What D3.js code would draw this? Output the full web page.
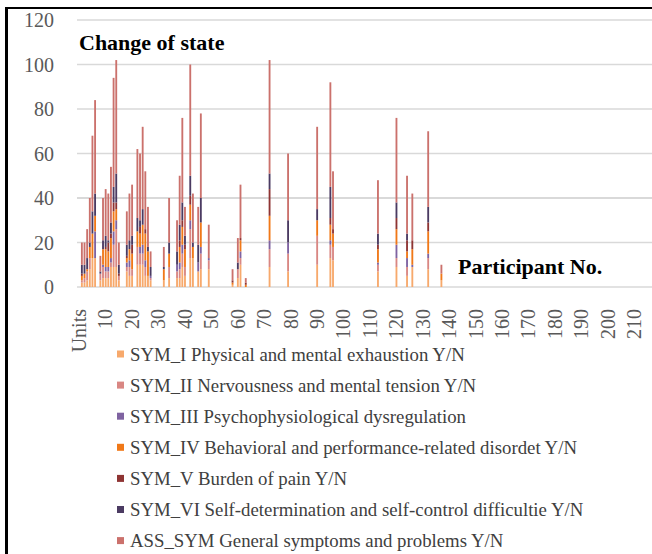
<script src="https://d3js.org/d3.v7.min.js"></script>
<style>
  body { margin: 0; background: #fff; }
  text { font-family: "Liberation Serif", "Times New Roman", serif; }
</style>
<body>
<script>
  // participant numbers that have a bar (category index on the x axis)
  var participants = [1, 2, 3, 4, 5, 6, 8, 9, 10, 11, 12, 13, 14, 15, 18, 19, 20, 22, 23, 24, 25, 26, 27,
    32, 34, 37, 38, 39, 40, 42, 43, 45, 46, 49, 58, 60, 61, 63, 72, 79, 90, 95, 96, 113, 120, 124, 126, 132, 137];

  // one array per series, same order as participants
  var symI   = [2, 2, 3, 8, 13, 13, 3, 4, 4, 4, 9, 9, 9, 3, 7, 5, 5, 10, 10, 10, 5, 5, 3,
    3, 4, 4, 4, 9, 5, 13, 13, 7, 8, 8, 1, 4, 10, 0, 9, 7, 10, 13, 12, 7, 9, 5, 9, 8, 3];
  var symII  = [1, 2, 4, 5, 0, 0, 3, 5, 3, 3, 2, 10, 17, 2, 2, 4, 3, 8, 5, 5, 4, 0, 1,
    0, 5, 3, 4, 6, 4, 13, 0, 0, 7, 4, 0, 4, 3, 0, 8, 8, 13, 6, 6, 3, 4, 4, 0, 5, 0];
  var symIII = [0, 0, 0, 0, 0, 12, 0, 1, 2, 2, 2, 6, 4, 0, 2, 3, 0, 0, 3, 4, 3, 0, 1,
    0, 0, 3, 3, 4, 0, 4, 0, 4, 3, 1, 0, 0, 3, 0, 4, 5, 0, 2, 0, 1, 6, 4, 1, 2, 0];
  var symIV  = [2, 2, 1, 5, 11, 7, 0, 7, 8, 7, 9, 9, 5, 0, 2, 5, 7, 7, 6, 9, 12, 11, 0,
    5, 6, 0, 7, 8, 8, 7, 5, 0, 11, 0, 1, 0, 5, 1, 11, 0, 7, 7, 6, 6, 7, 3, 7, 10, 3];
  var symV   = [1, 0, 0, 0, 0, 0, 0, 0, 1, 4, 2, 4, 3, 1, 1, 0, 4, 0, 3, 0, 2, 0, 0,
    0, 0, 0, 3, 3, 2, 4, 0, 0, 0, 0, 1, 0, 1, 1, 12, 0, 0, 3, 2, 2, 5, 5, 4, 4, 0];
  var symVI  = [4, 4, 5, 2, 10, 10, 1, 4, 5, 1, 5, 7, 13, 4, 5, 4, 4, 6, 3, 7, 0, 2, 4,
    1, 5, 6, 7, 8, 4, 9, 2, 8, 11, 0, 0, 3, 0, 0, 7, 10, 5, 14, 0, 5, 7, 3, 0, 7, 0];
  var assSym = [10, 10, 13, 20, 34, 42, 7, 19, 21, 21, 25, 49, 51, 10, 15, 21, 23, 31, 30, 37, 26, 18, 7,
    9, 20, 14, 22, 38, 13, 50, 22, 17, 38, 15, 5, 11, 24, 2, 51, 30, 37, 47, 26, 24, 38, 26, 21, 34, 4];

  var seriesNames = [
    "SYM_I Physical and mental exhaustion Y/N",
    "SYM_II Nervousness and mental tension Y/N",
    "SYM_III Psychophysiological dysregulation",
    "SYM_IV Behavioral and performance-related disordet Y/N",
    "SYM_V Burden of pain Y/N",
    "SYM_VI Self-determination and self-control difficultie Y/N",
    "ASS_SYM General symptoms and problems Y/N"
  ];
  var seriesValues = [symI, symII, symIII, symIV, symV, symVI, assSym];
  var colors = ["#F7A96C", "#D98783", "#7F63A1", "#F07818", "#8E3433", "#4B3B62", "#CB716C"];

  var yTicks = [0, 20, 40, 60, 80, 100, 120];
  var xTickLabels = ["Units", "10", "20", "30", "40", "50", "60", "70", "80", "90", "100",
    "110", "120", "130", "140", "150", "160", "170", "180", "190", "200", "210"];

  // category axis: "Units" then participant numbers
  var nCats = 218;
  var categories = ["Units"].concat(d3.range(1, nCats).map(String));

  var width = 652;
  var height = 554;

  var svg = d3.select("body")
    .append("svg")
    .attr("width", width)
    .attr("height", height);

  var x = d3.scaleBand()
    .domain(categories)
    .range([78.3, 78.3 + nCats * 2.64])
    .paddingInner(0.3)
    .paddingOuter(0);

  var y = d3.scaleLinear()
    .domain([0, 120])
    .range([287, 20]);

  // frame (left and top edges only)
  svg.append("rect").attr("x", 5).attr("y", 7).attr("width", 647).attr("height", 2).attr("fill", "#000");
  svg.append("rect").attr("x", 5).attr("y", 7).attr("width", 3).attr("height", 547).attr("fill", "#000");

  // gridlines
  svg.append("g")
    .selectAll("line")
    .data(yTicks)
    .join("line")
    .attr("x1", 77)
    .attr("x2", 652)
    .attr("y1", d => y(d))
    .attr("y2", d => y(d))
    .attr("stroke", "#D9D9D9")
    .attr("stroke-width", d => d == 40 ? 2.2 : 1.3);

  // y tick labels
  svg.append("g")
    .selectAll("text")
    .data(yTicks)
    .join("text")
    .attr("x", 54)
    .attr("y", d => y(d))
    .attr("dy", "0.35em")
    .attr("text-anchor", "end")
    .attr("font-size", 20)
    .attr("fill", "#595959")
    .text(d => d);

  // x tick labels, rotated
  svg.append("g")
    .selectAll("text")
    .data(xTickLabels)
    .join("text")
    .attr("transform", (d, i) => "translate(" + (x(categories[i * 10]) + x.bandwidth() / 2) + ",309) rotate(-90)")
    .attr("dy", "0.34em")
    .attr("text-anchor", "end")
    .attr("font-size", 20)
    .attr("fill", "#595959")
    .text(d => d);

  // stacked bars
  var rows = participants.map(function(p, i) {
    var r = { cat: String(p) };
    seriesValues.forEach(function(s, k) { r["s" + k] = s[i]; });
    return r;
  });
  var stack = d3.stack().keys(d3.range(7).map(k => "s" + k));
  var layers = stack(rows);

  svg.append("g")
    .selectAll("g")
    .data(layers)
    .join("g")
    .attr("fill", (d, k) => colors[k])
    .selectAll("rect")
    .data(d => d)
    .join("rect")
    .attr("x", d => x(d.data.cat))
    .attr("width", x.bandwidth())
    .attr("y", d => y(d[1]))
    .attr("height", d => y(d[0]) - y(d[1]));

  // chart texts
  svg.append("text")
    .attr("x", 79)
    .attr("y", 50)
    .attr("font-size", 22)
    .attr("font-weight", "bold")
    .attr("fill", "#000")
    .text("Change of state");

  svg.append("text")
    .attr("x", 458)
    .attr("y", 274)
    .attr("font-size", 22)
    .attr("font-weight", "bold")
    .attr("fill", "#000")
    .text("Participant No.");

  // legend
  var legend = svg.append("g")
    .selectAll("g")
    .data(seriesNames)
    .join("g")
    .attr("transform", (d, i) => "translate(0," + (354 + i * 31.1) + ")");

  legend.append("rect")
    .attr("x", 117)
    .attr("y", -3.5)
    .attr("width", 7)
    .attr("height", 7)
    .attr("fill", (d, i) => colors[i]);

  legend.append("text")
    .attr("x", 130)
    .attr("dy", "0.35em")
    .attr("font-size", 18.8)
    .attr("fill", "#404040")
    .text(d => d);
</script>
</body>
